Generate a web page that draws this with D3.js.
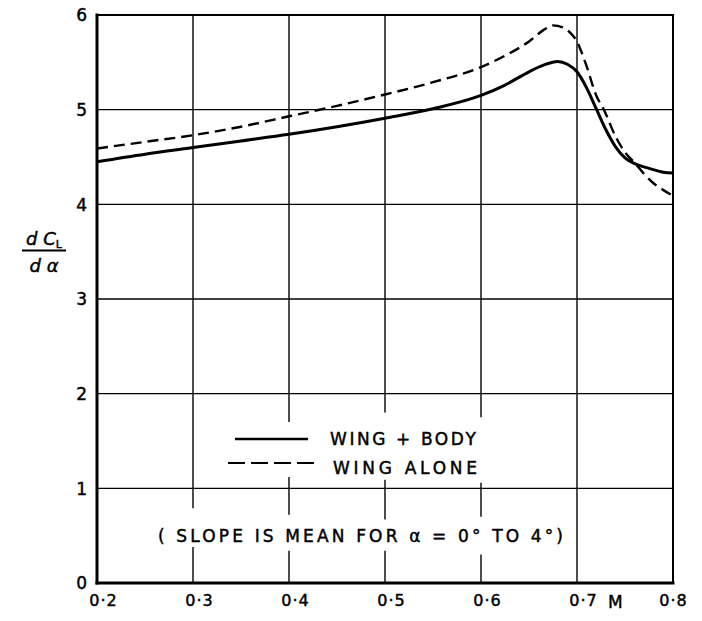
<!DOCTYPE html>
<html>
<head>
<meta charset="utf-8">
<script src="https://cdn.jsdelivr.net/npm/d3@7"></script>
<style>
  html, body { margin: 0; padding: 0; background: #fff; }
  svg text { font-family: "DejaVu Sans", sans-serif; fill: #000; stroke: #000; stroke-width: 0.45px; }
</style>
</head>
<body>
<svg id="chart" width="702" height="621"></svg>
<script>
// ---------- data ----------
const xTicks = [0.2, 0.3, 0.4, 0.5, 0.6, 0.7, 0.8];
const xTickLabels = ["0·2", "0·3", "0·4", "0·5", "0·6", "0·7", "0·8"];
const yTicks = [0, 1, 2, 3, 4, 5, 6];
const yTickLabels = ["0", "1", "2", "3", "4", "5", "6"];

const wingBodyM = [0.20, 0.25, 0.30, 0.35, 0.40, 0.45, 0.50, 0.55, 0.60, 0.625, 0.65, 0.665, 0.68, 0.69, 0.70, 0.71, 0.72, 0.73, 0.74, 0.75, 0.76, 0.775, 0.79, 0.80];
const wingBodyCL = [4.45, 4.53, 4.60, 4.67, 4.74, 4.82, 4.91, 5.01, 5.15, 5.26, 5.40, 5.47, 5.51, 5.48, 5.40, 5.23, 5.01, 4.79, 4.61, 4.49, 4.43, 4.38, 4.34, 4.33];

const wingAloneM = [0.20, 0.25, 0.30, 0.35, 0.40, 0.45, 0.50, 0.55, 0.60, 0.625, 0.65, 0.665, 0.675, 0.685, 0.695, 0.70, 0.705, 0.71, 0.72, 0.728, 0.74, 0.75, 0.76, 0.77, 0.78, 0.79, 0.80];
const wingAloneCL = [4.59, 4.66, 4.73, 4.82, 4.93, 5.04, 5.16, 5.29, 5.45, 5.57, 5.72, 5.84, 5.89, 5.87, 5.79, 5.72, 5.60, 5.46, 5.15, 5.00, 4.72, 4.55, 4.44, 4.32, 4.22, 4.15, 4.09];

const legendLabels = ["WING + BODY", "WING ALONE"];
const noteText = "( SLOPE IS MEAN FOR α = 0° TO 4°)";

// ---------- layout ----------
const svg = d3.select("#chart");
const x = d3.scaleLinear().domain([0.2, 0.8]).range([97, 673]);
const y = d3.scaleLinear().domain([0, 6]).range([583, 15]);

// gaps in vertical gridlines (value ranges of y where the line is interrupted by text)
const vGaps = {
  0.3: [[0.38, 0.79]],
  0.4: [[1.12, 1.70], [0.34, 0.72]],
  0.5: [[1.09, 1.80], [0.34, 0.67]],
  0.6: [[1.06, 1.75], [0.30, 0.70]]
};

const grid = svg.append("g").attr("stroke", "#000").attr("stroke-width", 1.4).attr("fill", "none");

// horizontal gridlines
yTicks.filter(v => v > 0 && v < 6).forEach(v => {
  grid.append("line").attr("x1", x(0.2)).attr("x2", x(0.8)).attr("y1", y(v)).attr("y2", y(v));
});

// vertical gridlines with gaps
xTicks.filter(v => v > 0.2 && v < 0.8).forEach(v => {
  const gaps = (vGaps[v] || []).slice().sort((a, b) => b[1] - a[1]);
  let top = 6;
  const segs = [];
  gaps.forEach(g => { segs.push([g[1], top]); top = g[0]; });
  segs.push([0, top]);
  segs.forEach(s => {
    grid.append("line").attr("x1", x(v)).attr("x2", x(v)).attr("y1", y(s[0])).attr("y2", y(s[1]));
  });
});

// frame
const frame = svg.append("g").attr("stroke", "#000").attr("fill", "none").attr("stroke-linecap", "square");
frame.append("line").attr("x1", x(0.2)).attr("x2", x(0.8)).attr("y1", y(6)).attr("y2", y(6)).attr("stroke-width", 2.2);
frame.append("line").attr("x1", x(0.8)).attr("x2", x(0.8)).attr("y1", y(6)).attr("y2", y(0)).attr("stroke-width", 2);
frame.append("line").attr("x1", x(0.2)).attr("x2", x(0.2)).attr("y1", y(6)).attr("y2", y(0)).attr("stroke-width", 3);
frame.append("line").attr("x1", x(0.2)).attr("x2", x(0.8)).attr("y1", y(0)).attr("y2", y(0)).attr("stroke-width", 3);

// axes (labels only)
const yAxis = svg.append("g").attr("transform", `translate(${x(0.2)},0)`)
  .call(d3.axisLeft(y).tickValues(yTicks).tickSize(0).tickPadding(10).tickFormat((d, i) => yTickLabels[i]));
yAxis.select(".domain").remove();
yAxis.selectAll("text").style("font-size", "17px").style("font-family", "DejaVu Sans, sans-serif").attr("dy", "0.35em");

const xAxis = svg.append("g").attr("transform", `translate(0,${y(0)})`)
  .call(d3.axisBottom(x).tickValues(xTicks).tickSize(0).tickPadding(12).tickFormat((d, i) => xTickLabels[i]));
xAxis.select(".domain").remove();
xAxis.selectAll("text").style("font-size", "16px").style("font-family", "DejaVu Sans, sans-serif")
  .attr("letter-spacing", "1px")
  .attr("dx", (d) => d < 0.75 ? 6 : 0);

svg.append("text").attr("x", x(0.7) + 31).attr("y", 608).style("font-size", "17px").text("M");

// y-axis title dC_L / dα
const title = svg.append("g");
title.append("text").attr("x", 44).attr("y", 245).attr("text-anchor", "middle")
  .style("font-size", "18px").style("font-style", "italic")
  .text("d C").append("tspan").attr("dy", 3).style("font-size", "11px").style("font-style", "normal").text("L");
title.append("line").attr("x1", 22).attr("x2", 66).attr("y1", 250.5).attr("y2", 250.5).attr("stroke", "#000").attr("stroke-width", 1.8);
title.append("text").attr("x", 44).attr("y", 272).attr("text-anchor", "middle")
  .style("font-size", "18px").style("font-style", "italic").text("d α");

// curves
const line = d3.line().x(d => x(d[0])).y(d => y(d[1])).curve(d3.curveMonotoneX);
svg.append("path").datum(d3.zip(wingBodyM, wingBodyCL))
  .attr("d", line).attr("fill", "none").attr("stroke", "#000").attr("stroke-width", 3);
svg.append("path").datum(d3.zip(wingAloneM, wingAloneCL))
  .attr("d", line).attr("fill", "none").attr("stroke", "#000").attr("stroke-width", 2.4)
  .attr("stroke-dasharray", "11 6");

// legend
const leg = svg.append("g");
leg.append("line").attr("x1", 235).attr("x2", 308).attr("y1", 439).attr("y2", 439)
  .attr("stroke", "#000").attr("stroke-width", 2.4);
leg.append("line").attr("x1", 228).attr("x2", 317).attr("y1", 463).attr("y2", 463)
  .attr("stroke", "#000").attr("stroke-width", 2).attr("stroke-dasharray", "17 6");
leg.append("text").attr("x", 330).attr("y", 445).style("font-size", "17px")
  .attr("textLength", 146).attr("lengthAdjust", "spacing").text(legendLabels[0]);
leg.append("text").attr("x", 333).attr("y", 474).style("font-size", "17px")
  .attr("textLength", 144).attr("lengthAdjust", "spacing").text(legendLabels[1]);

// note
svg.append("text").attr("x", 158).attr("y", 542).style("font-size", "17px")
  .attr("textLength", 405).attr("lengthAdjust", "spacing").text(noteText);
</script>
</body>
</html>
